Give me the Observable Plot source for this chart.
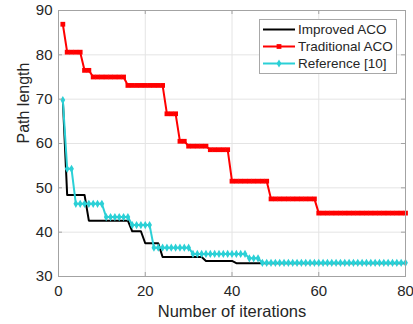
<!DOCTYPE html>
<html><head><meta charset="utf-8">
<script src="https://cdn.jsdelivr.net/npm/d3@7"></script>
<script src="https://cdn.jsdelivr.net/npm/@observablehq/plot@0.6"></script>
<style>
html,body{margin:0;padding:0;background:#fff;}
#wrap{position:relative;width:413px;height:324px;overflow:hidden;font-family:"Liberation Sans",Arial,Helvetica,sans-serif;}
#legend{position:absolute;left:259px;top:19px;}
</style></head><body><div id="wrap"></div>
<script>
const iterations = [
  1, 2, 3, 4, 5, 6, 7, 8, 9, 10,
  11, 12, 13, 14, 15, 16, 17, 18, 19, 20,
  21, 22, 23, 24, 25, 26, 27, 28, 29, 30,
  31, 32, 33, 34, 35, 36, 37, 38, 39, 40,
  41, 42, 43, 44, 45, 46, 47, 48, 49, 50,
  51, 52, 53, 54, 55, 56, 57, 58, 59, 60,
  61, 62, 63, 64, 65, 66, 67, 68, 69, 70,
  71, 72, 73, 74, 75, 76, 77, 78, 79, 80
];
const improvedACO = [
  69.8, 48.4, 48.4, 48.4, 48.4, 48.4, 42.6, 42.6, 42.6, 42.6,
  42.6, 42.6, 42.6, 42.6, 42.6, 42.6, 40.2, 40.2, 40.2, 37.5,
  37.5, 37.5, 37.5, 34.4, 34.4, 34.4, 34.4, 34.4, 34.4, 34.4,
  34.4, 34.4, 34.4, 33.5, 33.5, 33.5, 33.5, 33.5, 33.5, 33.5,
  33.0, 33.0, 33.0, 33.0, 33.0, 33.0, 33.0, 33.0, 33.0, 33.0,
  33.0, 33.0, 33.0, 33.0, 33.0, 33.0, 33.0, 33.0, 33.0, 33.0,
  33.0, 33.0, 33.0, 33.0, 33.0, 33.0, 33.0, 33.0, 33.0, 33.0,
  33.0, 33.0, 33.0, 33.0, 33.0, 33.0, 33.0, 33.0, 33.0, 33.0
];
const traditionalACO = [
  86.9, 80.6, 80.6, 80.6, 80.6, 76.5, 76.5, 75.0, 75.0, 75.0,
  75.0, 75.0, 75.0, 75.0, 75.0, 73.1, 73.1, 73.1, 73.1, 73.1,
  73.1, 73.1, 73.1, 73.1, 66.7, 66.7, 66.7, 60.5, 60.5, 59.4,
  59.4, 59.4, 59.4, 59.4, 58.6, 58.6, 58.6, 58.6, 58.6, 51.5,
  51.5, 51.5, 51.5, 51.5, 51.5, 51.5, 51.5, 51.5, 47.5, 47.5,
  47.5, 47.5, 47.5, 47.5, 47.5, 47.5, 47.5, 47.5, 47.5, 44.3,
  44.3, 44.3, 44.3, 44.3, 44.3, 44.3, 44.3, 44.3, 44.3, 44.3,
  44.3, 44.3, 44.3, 44.3, 44.3, 44.3, 44.3, 44.3, 44.3, 44.3
];
const reference10 = [
  69.8, 54.3, 54.3, 46.4, 46.4, 46.4, 46.4, 46.4, 46.4, 46.4,
  43.4, 43.4, 43.4, 43.4, 43.4, 43.4, 41.6, 41.6, 41.6, 41.6,
  41.6, 36.5, 36.5, 36.5, 36.5, 36.5, 36.5, 36.5, 36.5, 36.5,
  35.1, 35.1, 35.1, 35.1, 35.1, 35.1, 35.1, 35.1, 35.1, 35.1,
  35.1, 35.1, 35.1, 34.1, 34.1, 34.1, 33.1, 33.1, 33.1, 33.1,
  33.1, 33.1, 33.1, 33.1, 33.1, 33.1, 33.1, 33.1, 33.1, 33.1,
  33.1, 33.1, 33.1, 33.1, 33.1, 33.1, 33.1, 33.1, 33.1, 33.1,
  33.1, 33.1, 33.1, 33.1, 33.1, 33.1, 33.1, 33.1, 33.1, 33.1
];
const seriesNames = ["Improved ACO", "Traditional ACO", "Reference [10]"];
const seriesColors = ["#000000", "#ff0000", "#2bd0d6"];
const seriesSymbols = [null, "square", "diamond"];
const xTicks = [0, 20, 40, 60, 80];
const yTicks = [30, 40, 50, 60, 70, 80, 90];
const xLabel = "Number of iterations";
const yLabel = "Path length";

const seriesValues = [improvedACO, traditionalACO, reference10];
const tables = seriesValues.map(vals => iterations.map((it, i) => ({iter: it, value: vals[i]})));

const axisColor = "#a3a3a3";
const gridColor = "#e4e4e4";
const markR = [0, 2.7, 2.5];

const marks = [
  Plot.gridX(xTicks, {stroke: gridColor, strokeOpacity: 1}),
  Plot.gridY(yTicks, {stroke: gridColor, strokeOpacity: 1})
];
tables.forEach((t, i) => {
  marks.push(Plot.line(t, {x: "iter", y: "value", stroke: seriesColors[i], strokeWidth: 2}));
  if (seriesSymbols[i]) {
    marks.push(Plot.dot(t, {x: "iter", y: "value", symbol: seriesSymbols[i], r: markR[i], fill: seriesColors[i], stroke: "none"}));
  }
});
marks.push(
  Plot.frame({stroke: axisColor}),
  Plot.ruleX(xTicks, {stroke: axisColor, insetTop: 262}),
  Plot.ruleX(xTicks, {stroke: axisColor, insetBottom: 262}),
  Plot.ruleY(yTicks, {stroke: axisColor, insetRight: 343}),
  Plot.ruleY(yTicks, {stroke: axisColor, insetLeft: 343}),
  Plot.axisX(xTicks, {tickSize: 0, tickPadding: 9, label: null, fontSize: 15}),
  Plot.axisY(yTicks, {tickSize: 0, tickPadding: 6, label: null, fontSize: 15}),
  Plot.text([xLabel], {text: d => d, frameAnchor: "bottom", dy: 35, lineAnchor: "middle", fontSize: 16.5}),
  Plot.text([yLabel], {text: d => d, frameAnchor: "left", dx: -35, rotate: -90, lineAnchor: "middle", fontSize: 16})
);

const chart = Plot.plot({
  width: 413, height: 324,
  marginLeft: 58, marginRight: 8, marginTop: 10, marginBottom: 48,
  style: {fontFamily: "'Liberation Sans', Arial, Helvetica, sans-serif", fontSize: "15px", color: "#262626", background: "#fff", overflow: "visible"},
  x: {domain: [0, 80]},
  y: {domain: [30, 90]},
  marks
});
const wrap = document.getElementById("wrap");
wrap.appendChild(chart);

// Legend
const lw = 138, lh = 55;
const leg = d3.create("svg").attr("id", "legend").attr("width", lw).attr("height", lh)
  .style("font-family", "'Liberation Sans', Arial, Helvetica, sans-serif");
leg.append("rect").attr("x", 0.5).attr("y", 0.5).attr("width", lw - 1).attr("height", lh - 1)
  .attr("fill", "#fff").attr("stroke", "#a8a8a8");
const symMap = {square: d3.symbolSquare, diamond: d3.symbolDiamond};
seriesNames.forEach((name, i) => {
  const y = 10.5 + 17 * i;
  leg.append("line").attr("x1", 4).attr("x2", 36).attr("y1", y).attr("y2", y)
    .attr("stroke", seriesColors[i]).attr("stroke-width", 2);
  if (seriesSymbols[i]) {
    leg.append("path").attr("transform", `translate(20,${y})`)
      .attr("d", d3.symbol(symMap[seriesSymbols[i]], Math.PI * markR[i] * markR[i])())
      .attr("fill", seriesColors[i]);
  }
  leg.append("text").attr("x", 39).attr("y", y).attr("dy", "0.35em")
    .attr("font-size", 13.5).attr("fill", "#262626").text(name);
});
wrap.appendChild(leg.node());
</script>
</body></html>
